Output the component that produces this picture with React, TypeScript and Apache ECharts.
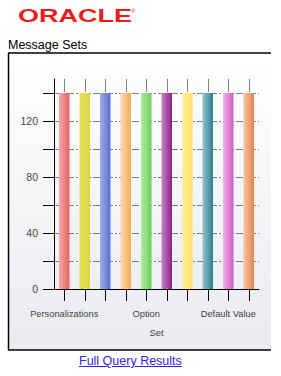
import React, { useEffect, useRef } from "react";
import * as echarts from "echarts";

const categories = [
  "Personalizations",
  "Message",
  "Lookup",
  "Profile",
  "Option",
  "Responsibility",
  "Menu",
  "Function",
  "Default Value",
  "Attachment",
];
const setCounts = [140, 140, 140, 140, 140, 140, 140, 140, 140, 140];
const yTickValues = [0, 20, 40, 60, 80, 100, 120, 140];
const yLabelValues = [0, 40, 80, 120];
const barColors: [string, string][] = [
  ["#f5a8a8", "#e86262"],
  ["#e4e054", "#dcd646"],
  ["#a0ace8", "#5a6ed6"],
  ["#fcdcac", "#f0ae5c"],
  ["#b4eaa4", "#6ccf56"],
  ["#c486c4", "#8e1e86"],
  ["#fff2a4", "#fddc62"],
  ["#94c4cc", "#2e7e8e"],
  ["#f2b6ea", "#d05cc6"],
  ["#f6c4a4", "#e8844c"],
];

const FONT = "'Liberation Sans', Arial, sans-serif";

export default function App() {
  const ref = useRef<HTMLDivElement>(null);
  useEffect(() => {
    if (!ref.current) return;
    const chart = echarts.init(ref.current, null, { renderer: "svg" });
    chart.setOption({
      animation: false,
      backgroundColor: "#ffffff",
      textStyle: { fontFamily: FONT },
      graphic: [
        {
          type: "rect",
          z: -10,
          shape: { x: 8, y: 53, width: 263, height: 297 },
          style: {
            fill: new echarts.graphic.LinearGradient(0, 0, 0, 1, [
              { offset: 0, color: "#ffffff" },
              { offset: 1, color: "#e9ebef" },
            ]),
          },
        },
        { type: "line", shape: { x1: 8, y1: 53, x2: 271, y2: 53 }, style: { stroke: "#000", lineWidth: 1.5 } },
        { type: "line", shape: { x1: 8.5, y1: 53, x2: 8.5, y2: 350 }, style: { stroke: "#000", lineWidth: 1.5 } },
        { type: "line", shape: { x1: 8, y1: 350, x2: 271, y2: 350 }, style: { stroke: "#000", lineWidth: 1.5 } },
        {
          type: "text",
          x: 8,
          y: 38,
          style: { text: "Message Sets", font: `12.5px ${FONT}`, fill: "#000" },
        },
        {
          type: "text",
          x: 18,
          y: 6,
          scaleX: 1.46,
          style: { text: "ORACLE", font: `bold 18.5px ${FONT}`, fill: "#ee1c1c" },
        },
        {
          type: "text",
          x: 131,
          y: 8,
          style: { text: "®", font: `6px ${FONT}`, fill: "#ee1c1c" },
        },
      ],
      grid: { left: 54, right: 22, top: 79, bottom: 87, containLabel: false },
      xAxis: [
        {
          type: "category",
          data: categories,
          position: "bottom",
          name: "Set",
          nameLocation: "middle",
          nameGap: 38,
          nameTextStyle: { fontSize: 9.5, color: "#444", fontFamily: FONT },
          axisLine: { show: true, lineStyle: { color: "#000", width: 1 } },
          axisTick: {
            show: true,
            alignWithLabel: true,
            interval: 0,
            inside: false,
            length: 12,
            lineStyle: { color: "#000", width: 1 },
          },
          axisLabel: { interval: 3, margin: 20, fontSize: 9.3, color: "#444", fontFamily: FONT },
          splitLine: { show: false },
        },
        {
          type: "category",
          data: categories,
          position: "top",
          axisLine: { show: false },
          axisTick: {
            show: true,
            alignWithLabel: true,
            interval: 0,
            inside: true,
            length: 13,
            lineStyle: { color: "#808080", width: 1 },
          },
          axisLabel: { show: false },
          splitLine: { show: false },
        },
      ],
      yAxis: {
        type: "value",
        min: 0,
        max: 150,
        interval: 10,
        axisLine: { show: true, lineStyle: { color: "#000", width: 1 } },
        axisTick: { show: true, length: 11, customValues: yTickValues, lineStyle: { color: "#000" } },
        axisLabel: { customValues: yLabelValues, margin: 16, fontSize: 10.5, color: "#444", fontFamily: FONT },
        splitLine: {
          show: true,
          lineStyle: { color: "#808080", width: 1, type: [7, 2, 2, 2] },
        },
      },
      series: [
        {
          type: "bar",
          xAxisIndex: 0,
          barWidth: 10.5,
          data: setCounts.map((v, i) => ({
            value: v,
            itemStyle: {
              color: new echarts.graphic.LinearGradient(0, 0, 1, 0, [
                { offset: 0, color: barColors[i][0] },
                { offset: 1, color: barColors[i][1] },
              ]),
            },
          })),
        },
      ],
    });
    return () => chart.dispose();
  }, []);
  return (
    <div style={{ position: "absolute", left: 0, top: 0, width: 281, height: 376 }}>
      <div ref={ref} style={{ width: 281, height: 376 }} />
      <a
        href="#"
        style={{
          position: "absolute",
          left: 79,
          top: 354,
          fontFamily: FONT,
          fontSize: 12.5,
          color: "#3322ee",
          textDecoration: "underline",
          whiteSpace: "nowrap",
        }}
      >
        Full Query Results
      </a>
    </div>
  );
}
